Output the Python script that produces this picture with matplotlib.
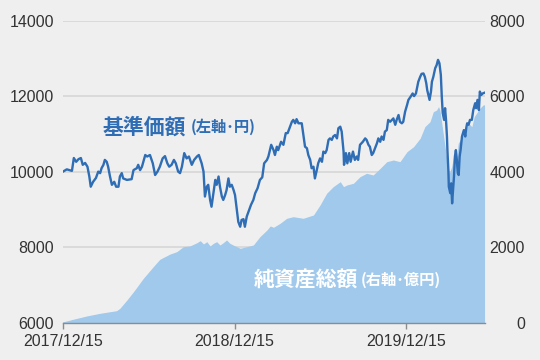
import matplotlib
matplotlib.use("Agg")
import matplotlib.pyplot as plt
import pandas as pd

# base date and day offsets
START = "2017-12-15"
END_DAY = 897

# 基準価額 (left axis, yen)
nav_day = [0, 8, 19, 23, 28, 33, 38, 42, 47, 52, 56, 59, 64, 70, 75, 79, 82, 86, 89, 93,
           96, 100, 104, 109, 113, 118, 121, 125, 128, 136, 146, 150, 157, 160, 164, 168,
           175, 179, 185, 191, 196, 201, 206, 212, 217, 222, 226, 231, 236, 240, 245, 249,
           253, 258, 263, 268, 274, 279, 285, 289, 295, 299, 302, 306, 309, 313, 316, 320,
           324, 327, 331, 334, 338, 341, 345, 348, 352, 355, 359, 363, 366, 370, 373, 377,
           380, 384, 387, 391, 396, 400, 405, 409, 414, 419, 424, 428, 434, 437, 443, 448,
           451, 455, 458, 464, 469, 474, 478, 483, 487, 490, 494, 497, 501, 508, 511, 515,
           519, 522, 526, 529, 533, 536, 540, 543, 547, 551, 554, 558, 561, 565, 568, 572,
           575, 579, 583, 586, 590, 593, 597, 598, 602, 605, 609, 612, 617, 621, 625, 628,
           632, 638, 643, 646, 650, 653, 657, 660, 664, 668, 671, 675, 678, 682, 685, 689,
           692, 696, 700, 703, 707, 710, 714, 717, 721, 724, 728, 732, 735, 740, 744, 747,
           751, 754, 756, 760, 763, 767, 770, 773, 775, 780, 783, 785, 788, 792, 795, 798,
           801, 804, 806, 808, 811, 813, 815, 817, 818, 820, 821, 824, 826, 828, 830, 832,
           834, 836, 838, 840, 842, 844, 846, 849, 851, 853, 856, 858, 860, 863, 866, 870,
           873, 877, 879, 882, 885, 887, 890, 893, 897]
nav = [10010, 10070, 10030, 10370, 10270, 10340, 10370, 10190, 10240, 10140, 9880, 9610,
       9740, 9840, 10010, 9970, 10100, 10190, 10320, 10270, 10140, 9880, 9660, 9740, 9610,
       9610, 9880, 9970, 9830, 9790, 9810, 10050, 10100, 10190, 10050, 10140, 10450, 10410,
       10450, 10230, 9920, 10010, 10140, 10360, 10420, 10230, 10140, 10190, 10320, 10230,
       10010, 9970, 10140, 10500, 10360, 10410, 10190, 10320, 10410, 10450, 10230, 10010,
       9350, 9610, 9660, 9260, 9080, 9440, 9790, 9660, 9880, 9610, 9350, 9260, 9390, 9520,
       9830, 9610, 9660, 9520, 9390, 8990, 8680, 8550, 8730, 8750, 8550, 8820, 8990, 9130,
       9260, 9440, 9570, 9790, 9860, 10230, 10320, 10410, 10720, 10580, 10450, 10670, 10580,
       10800, 10720, 11030, 11030, 11200, 11330, 11380, 11290, 11400, 11290, 11290, 11030,
       10670, 10630, 10450, 10320, 10100, 10140, 9830, 10050, 10230, 10360, 10270, 10540,
       10500, 10580, 10850, 10890, 10850, 10940, 10980, 10890, 11160, 11200, 11070, 10540,
       10190, 10500, 10230, 10500, 10270, 10540, 10320, 10410, 10320, 10720, 10800, 10890,
       10850, 10720, 10670, 10450, 10500, 10630, 10760, 10890, 10800, 10940, 10850, 11070,
       11110, 11380, 11330, 11380, 11420, 11250, 11380, 11510, 11330, 11290, 11330, 11600,
       11770, 11910, 12000, 12080, 12010, 12080, 12260, 12390, 12520, 12600, 12610, 12520,
       12350, 12170, 11910, 12130, 12390, 12520, 12750, 12830, 12970, 12880, 12570, 12000,
       11560, 11380, 11690, 11380, 10940, 10580, 10050, 9610, 9440, 9700, 9170, 9520, 9880,
       10410, 10580, 10320, 9970, 9920, 10410, 10580, 10940, 11030, 11110, 10940, 11160,
       11290, 11250, 11380, 11380, 11640, 11820, 11690, 11910, 11640, 12130, 12040, 12080,
       12100]

# 純資産総額 (right axis, 億円)
aum_day = [0, 22, 50, 79, 114, 121, 136, 150, 171, 192, 206, 228, 242, 256, 270, 285, 292,
           299, 306, 313, 320, 327, 334, 341, 348, 355, 362, 377, 391, 405, 419, 434, 441,
           448, 462, 476, 490, 511, 533, 547, 561, 575, 590, 597, 604, 618, 632, 646, 660,
           675, 689, 703, 717, 732, 746, 760, 770, 781, 788, 795, 799, 802, 806, 809, 813,
           817, 822, 827, 831, 834, 838, 841, 849, 856, 863, 870, 875, 880, 887, 894, 897]
aum = [30, 100, 185, 257, 326, 389, 609, 829, 1184, 1491, 1687, 1828, 1889, 2021, 2040,
       2127, 2180, 2093, 2154, 2040, 2111, 2154, 2066, 2127, 2199, 2111, 2066, 1979, 2021,
       2066, 2286, 2464, 2570, 2535, 2641, 2773, 2816, 2773, 2861, 3126, 3436, 3611, 3743,
       3611, 3656, 3701, 3875, 3965, 3921, 4098, 4273, 4318, 4273, 4538, 4670, 4893, 5200,
       5332, 5597, 5642, 5730, 5642, 5290, 5025, 4670, 4318, 3965, 4140, 4405, 4583, 4405,
       4760, 4935, 5113, 5290, 5200, 5465, 5555, 5687, 5775, 5780]

tick_dates = ["2017-12-15", "2018-12-15", "2019-12-15"]
tick_labels = ["2017/12/15", "2018/12/15", "2019/12/15"]

LINE = "#2f6db5"
AREA = "#a0c9ec"
BG = "#efefef"
NUM_FONT = ["Liberation Sans Narrow", "Liberation Sans", "DejaVu Sans"]
JP_FONT = ["Noto Sans CJK JP", "DejaVu Sans"]


def main():
    base = pd.Timestamp(START)
    nav_x = base + pd.to_timedelta(nav_day, unit="D")
    aum_x = base + pd.to_timedelta(aum_day, unit="D")

    fig = plt.figure(figsize=(5.4, 3.6), dpi=100, facecolor=BG)
    ax = fig.add_axes([0.1167, 0.1028, 0.7806, 0.8389])
    ax2 = ax.twinx()

    # area + grid live on the lower (right) axes, line on top
    ax.set_zorder(2)
    ax2.set_zorder(1)
    ax.patch.set_visible(False)
    ax2.set_facecolor("white")

    ax2.fill_between(aum_x, 0, aum, color=AREA, lw=0, zorder=2)
    ax2.set_ylim(0, 8000)
    ax2.set_yticks([0, 2000, 4000, 6000, 8000])
    ax2.yaxis.grid(True, color="#d6d6d6", lw=1.2, zorder=0)
    ax2.set_axisbelow(True)

    ax.plot(nav_x, nav, color=LINE, lw=1.7, solid_joinstyle="round")
    ax.set_ylim(6000, 14000)
    ax.set_yticks([6000, 8000, 10000, 12000, 14000])

    ax.set_xlim(base, base + pd.Timedelta(days=END_DAY))
    ax.set_xticks(pd.to_datetime(tick_dates))
    ax.set_xticklabels(tick_labels)

    for a in (ax, ax2):
        for s in a.spines.values():
            s.set_visible(False)
    ax.spines["bottom"].set_visible(True)
    ax.spines["bottom"].set_color("#8c8c8c")
    ax.spines["bottom"].set_linewidth(1.0)

    ax.tick_params(axis="x", length=4, width=1, color="#8c8c8c", pad=4,
                   labelsize=11.5, labelcolor="#333333")
    ax.tick_params(axis="y", length=0, pad=6.5, labelsize=11.5, labelcolor="#333333")
    ax2.tick_params(axis="y", length=0, pad=29, labelsize=11.5, labelcolor="#333333")
    for lab in ax2.get_yticklabels():
        lab.set_horizontalalignment("right")
    for lab in ax.get_xticklabels() + ax.get_yticklabels() + ax2.get_yticklabels():
        lab.set_fontfamily(NUM_FONT)

    # series labels
    ax.text(0.093, 0.649, "基準価額", transform=ax.transAxes, color=LINE,
            fontsize=15, fontweight="bold", family=JP_FONT, va="center")
    ax.text(0.303, 0.649, "(左軸･円)", transform=ax.transAxes, color=LINE,
            fontsize=11, fontweight="bold", family=JP_FONT, va="center")
    ax.text(0.453, 0.142, "純資産総額", transform=ax.transAxes, color="white",
            fontsize=15, fontweight="bold", family=JP_FONT, va="center")
    ax.text(0.706, 0.142, "(右軸･億円)", transform=ax.transAxes, color="white",
            fontsize=11, fontweight="bold", family=JP_FONT, va="center")

    fig.savefig("out.png", dpi=100, facecolor=BG)


if __name__ == "__main__":
    main()
